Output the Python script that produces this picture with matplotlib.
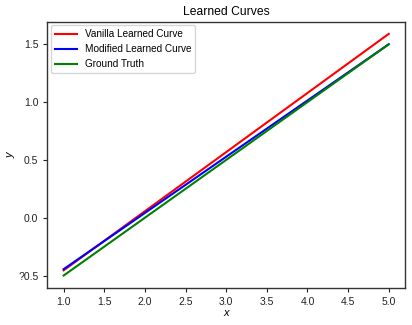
import matplotlib
matplotlib.use("Agg")
import matplotlib.pyplot as plt
from matplotlib.ticker import FuncFormatter

plt.rcParams['font.family'] = ['Liberation Sans', 'DejaVu Sans']

x_vals = [1.0, 5.0]
vanilla = [-0.455, 1.59]
modified = [-0.445, 1.50]
ground_truth = [-0.5, 1.5]
labels = ["Vanilla Learned Curve", "Modified Learned Curve", "Ground Truth"]

fig = plt.figure(figsize=(4.12, 3.25), dpi=100)
ax = fig.add_axes([0.115, 0.115, 0.868, 0.818])
ax.plot(x_vals, vanilla, color='red', lw=1.5, label=labels[0])
ax.plot(x_vals, modified, color='blue', lw=1.5, label=labels[1])
ax.plot(x_vals, ground_truth, color='green', lw=1.5, label=labels[2])

ax.set_title("Learned Curves", fontsize=8.7, pad=5)
ax.set_xlabel("x", fontsize=8, style='italic', labelpad=1)
ax.set_ylabel("y", fontsize=8, style='italic', labelpad=2)
ax.set_yticks([-0.5, 0.0, 0.5, 1.0, 1.5])
ax.set_xticks([1.0, 1.5, 2.0, 2.5, 3.0, 3.5, 4.0, 4.5, 5.0])
ax.yaxis.set_major_formatter(FuncFormatter(lambda v, p: f"{v:.1f}".replace('-', '?')))
ax.tick_params(labelsize=7.5, length=3, width=0.8, colors='#222222')
for s in ax.spines.values():
    s.set_color('#333333')
    s.set_linewidth(1.0)
ax.legend(loc='upper left', fontsize=7.2, frameon=True, handlelength=2.2,
          borderaxespad=0.35)
fig.savefig("out.png", dpi=100)
